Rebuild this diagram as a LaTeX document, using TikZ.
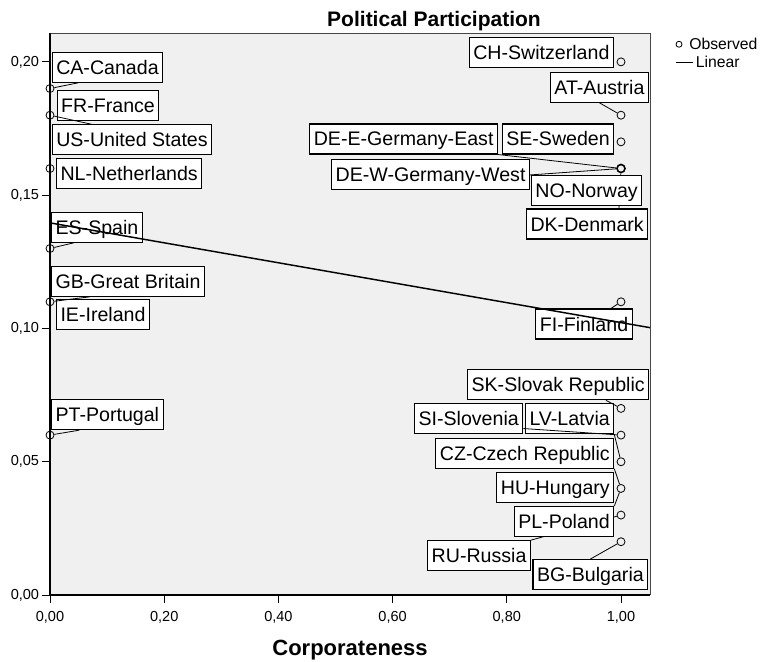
\documentclass[tikz,border=0pt]{standalone}
\usepackage{fontspec}
\setmainfont{Liberation Sans}
\usepackage{tikz}
\usetikzlibrary{positioning, backgrounds}
\definecolor{panel}{RGB}{240,240,240}
\definecolor{framegrey}{RGB}{70,70,70}

\begin{document}
\begin{tikzpicture}[x=428.25pt, y=1999.5pt,
    obs/.style={circle, draw=black, line width=0.6pt, inner sep=0pt, minimum size=6pt},
    lab/.style={draw=black, fill=white, line width=0.8pt, inner xsep=3pt, inner ysep=6pt,
                text height=10.5pt, text depth=0pt, font=\fontsize{14.7}{17}\selectfont},
    ticklab/.style={inner sep=0pt, font=\fontsize{10.9}{13}\selectfont},
    legtext/.style={inner sep=0pt, anchor=west, font=\fontsize{11.8}{14}\selectfont},
    leader/.style={draw=black, line width=0.6pt}
  ]
  \useasboundingbox (-0.0876,-0.0248) rectangle (1.2487,0.2232);

  % --- plot panel ---
  \begin{scope}[on background layer]
    \fill[panel] (0,0) rectangle (1.0508,0.2108);
  \end{scope}
  \draw[framegrey, line width=0.75pt] (0,0.2108) -- (1.0508,0.2108) -- (1.0508,0);
  \draw[black, line width=1.1pt] (0,0.2108) -- (0,0) -- (1.0508,0);

  % ticks and tick labels
  \foreach \v/\t [count=\i] in {0/{0,00}, 0.2/{0,20}, 0.4/{0,40}, 0.6/{0,60}, 0.8/{0,80}, 1/{1,00}} {
      \draw[line width=0.75pt] (\v,0) -- (\v,-0.003);
      \node[ticklab, anchor=base] (xt\i) at (\v,-0.0100) {\t};
  }
  \foreach \v/\t [count=\i] in {0/{0,00}, 0.05/{0,05}, 0.10/{0,10}, 0.15/{0,15}, 0.20/{0,20}} {
      \draw[line width=0.75pt] (-0.0145,\v) -- (0,\v);
      \node[ticklab, anchor=east] (yt\i) at (-0.0187,\v) {\t};
  }

  % --- observed values ---
  \foreach \n/\v in {l19/0.19, l18/0.18, l16/0.16, l13/0.13, l11/0.11, l06/0.06} {
      \node[obs] (\n) at (0,\v) {};
  }
  \foreach \n/\v in {r20/0.20, r18/0.18, r17/0.17, r11/0.11, r07/0.07,
                     r06/0.06, r05/0.05, r04/0.04, r03/0.03, r02/0.02} {
      \node[obs] (\n) at (1,\v) {};
  }
  \node[obs, line width=1.2pt] (r16) at (1,0.16) {};

  % --- country labels ---
  \node[lab, anchor=north west] (ca) at (0.0030,0.2038) {CA-Canada};
  \node[lab, anchor=north west] (fr) at (0.0117,0.1894) {FR-France};
  \node[lab, anchor=north west] (us) at (0.0030,0.1766) {US-United States};
  \node[lab, anchor=north west] (nl) at (0.0105,0.1640) {NL-Netherlands};
  \node[lab, anchor=north west] (es) at (0.0018,0.1438) {ES-Spain};
  \node[lab, anchor=north west] (gb) at (0.0018,0.1235) {GB-Great Britain};
  \node[lab, anchor=north west] (ie) at (0.0105,0.1109) {IE-Ireland};
  \node[lab, anchor=north west] (pt) at (0.0018,0.0735) {PT-Portugal};

  \node[lab, anchor=north east] (ch) at (0.9877,0.2094) {CH-Switzerland};
  \node[lab, anchor=north east] (at) at (1.0490,0.1963) {AT-Austria};
  \node[lab, anchor=north east] (se) at (0.9883,0.1769) {SE-Sweden};
  \node[lab, anchor=north east] (dee) at (0.7846,0.1769) {DE-E-Germany-East};
  \node[lab, anchor=north east] (dew) at (0.8406,0.1634) {DE-W-Germany-West};
  \node[lab, anchor=north east] (no) at (1.0373,0.1575) {NO-Norway};
  \node[lab, anchor=north east] (dk) at (1.0478,0.1450) {DK-Denmark};
  \node[lab, anchor=north east] (fi) at (1.0205,0.1075) {FI-Finland};
  \node[lab, anchor=north east] (sk) at (1.0496,0.0847) {SK-Slovak Republic};
  \node[lab, anchor=north east] (si) at (0.8289,0.0719) {SI-Slovenia};
  \node[lab, anchor=north east] (lv) at (0.9883,0.0719) {LV-Latvia};
  \node[lab, anchor=north east] (cz) at (0.9883,0.0590) {CZ-Czech Republic};
  \node[lab, anchor=north east] (hu) at (0.9883,0.0460) {HU-Hungary};
  \node[lab, anchor=north east] (pl) at (0.9883,0.0334) {PL-Poland};
  \node[lab, anchor=north east] (ru) at (0.8424,0.0206) {RU-Russia};
  \node[lab, anchor=north east] (bg) at (1.0478,0.0135) {BG-Bulgaria};

  % leaders running under other labels
  \begin{scope}[on background layer]
    \draw[leader] (dk.26) -- (r16);
    \draw[leader] (ru.north east) -- (r03);
  \end{scope}
  % leaders
  \draw[leader] (ca.208) -- (l19);
  \draw[leader] (us.159) -- (l18);
  \draw[leader] (es.214) -- (l13);
  \draw[leader] (gb.202) -- (l11);
  \draw[leader] (pt.209) -- (l06);
  \draw[leader] (at.south) -- (r18);
  \draw[leader] (dee.south east) -- (r16);
  \draw[leader] (dew.east) -- (r16);
  \draw[leader] (fi.30) -- (r11);
  \draw[leader] (sk.342) -- (r07);
  \draw[leader] (si.350) -- (r06);
  \draw[leader] (lv.south east) -- (r05);
  \draw[leader] (cz.south east) -- (r04);
  \draw[leader] (pl.north east) -- (r04);
  \draw[leader] (bg.north) -- (r02);

  % --- linear fit ---
  \draw[black, line width=1.1pt] (0,0.1396) -- (1.0508,0.1003);

  % --- legend ---
  \node[obs, minimum size=4.5pt] (legobs) at (1.1016,0.2066) {};
  \node[legtext] (legobstext) at (1.1191,0.2067) {Observed};
  \draw[line width=0.9pt] (1.0963,0.1998) -- (1.1256,0.1998);
  \node[legtext] (leglin) at (1.1308,0.2000) {Linear};

  % --- titles ---
  \node[anchor=base, font=\bfseries\fontsize{15.75}{19}\selectfont] (title) at (0.6725,0.2132)
       {Political Participation};
  \node[anchor=base, font=\bfseries\fontsize{16.5}{20}\selectfont] (xtitle) at (0.5254,-0.0228)
       {Corporateness};
\end{tikzpicture}
\end{document}
